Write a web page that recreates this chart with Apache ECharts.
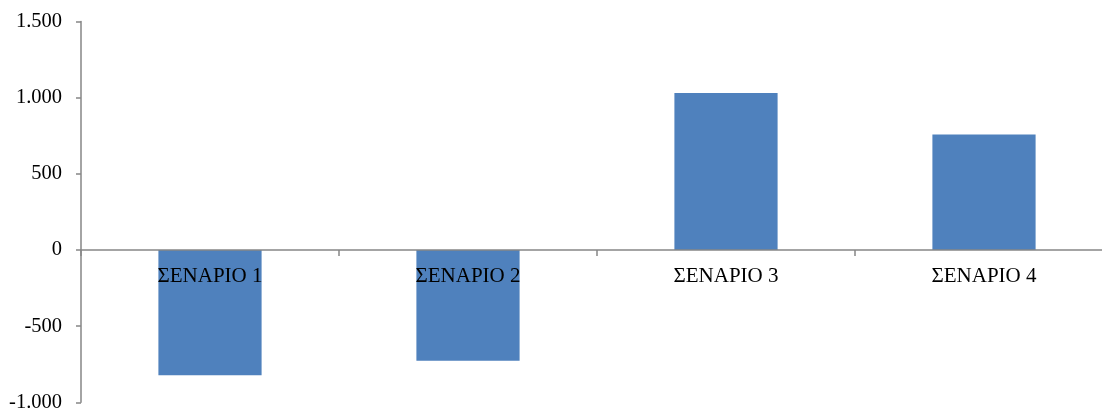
<!DOCTYPE html>
<html>
<head>
<meta charset="utf-8">
<script src="https://cdn.jsdelivr.net/npm/echarts@6/dist/echarts.min.js"></script>
<style>
html,body{margin:0;padding:0;background:#fff;}
#chart{width:1102px;height:409px;}
</style>
</head>
<body>
<div id="chart"></div>
<script>
const categories = ['ΣΕΝΑΡΙΟ 1', 'ΣΕΝΑΡΙΟ 2', 'ΣΕΝΑΡΙΟ 3', 'ΣΕΝΑΡΙΟ 4'];
const values = [-822, -727, 1030, 758];
const yMin = -1000;
const yMax = 1500;
const yStep = 500;

function fmt(v) {
  const s = Math.abs(v).toString().replace(/\B(?=(\d{3})+(?!\d))/g, '.');
  return (v < 0 ? '-' : '') + s;
}

const W = 1102, H = 409;
const gTop = 21.5, gBottom = 6.7;
const gridH = H - gTop - gBottom;
const zeroOffset = -((0 - yMin) / (yMax - yMin)) * gridH;

const chart = echarts.init(document.getElementById('chart'), null, {renderer: 'canvas'});
const axisColor = '#868686';
const font = '"Liberation Serif", "Times New Roman", serif';
chart.setOption({
  animation: false,
  grid: {left: 81, right: -11, top: gTop, bottom: gBottom, containLabel: false, outerBoundsMode: 'none'},
  xAxis: {
    type: 'category',
    data: categories,
    offset: zeroOffset,
    z: 10,
    axisLine: {onZero: false, lineStyle: {color: axisColor, width: 1.5}},
    axisTick: {show: true, length: 6, lineStyle: {color: axisColor, width: 1.5}},
    axisLabel: {color: '#000', fontFamily: font, fontSize: 21, margin: 16},
    splitLine: {show: false}
  },
  yAxis: {
    type: 'value',
    min: yMin, max: yMax, interval: yStep,
    z: 10,
    axisLine: {show: true, lineStyle: {color: axisColor, width: 1.5}},
    axisTick: {show: true, length: 5, lineStyle: {color: axisColor, width: 1.5}},
    axisLabel: {color: '#000', fontFamily: font, fontSize: 20.5, margin: 19, formatter: fmt},
    splitLine: {show: false}
  },
  series: [{
    type: 'bar',
    data: values,
    barWidth: '40%',
    itemStyle: {color: '#4F81BD'}
  }]
});
</script>
</body>
</html>
